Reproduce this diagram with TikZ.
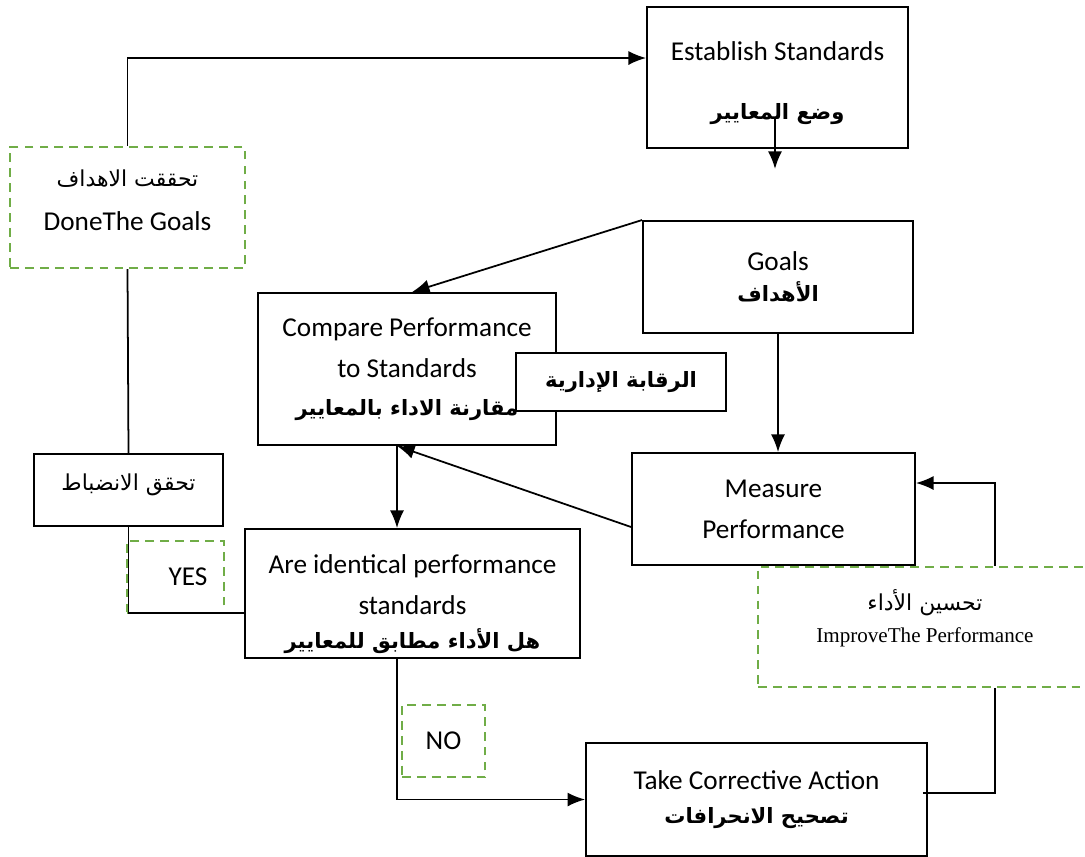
\documentclass[tikz,border=0pt]{standalone}
\usepackage{fontspec}
\setmainfont{Carlito}
\newfontfamily\arabicfont[Script=Arabic]{DejaVu Sans}
\newfontfamily\timesfont{Liberation Serif}
\TeXXeTstate=1
\usetikzlibrary{arrows.meta}

\definecolor{notegreen}{RGB}{112,173,71}
\newcommand{\artxt}[1]{{\arabicfont\fontsize{12.5}{15}\selectfont\beginR #1\endR}}
\newcommand{\artxtb}[1]{{\arabicfont\bfseries\fontsize{12}{14}\selectfont\beginR #1\endR}}

\begin{document}
\begin{tikzpicture}[x=0.02cm,y=-0.02cm,
    font=\fontsize{15.5}{23.3}\selectfont,
    box/.style={draw,line width=1.1pt,fill=white,inner sep=0pt,align=center},
    note/.style={draw=notegreen,dash pattern=on 5pt off 3.5pt,line width=1.3pt,inner sep=0pt,align=center},
    link/.style={line width=1pt},
    arr/.style={link,-{Latex[length=10pt,width=8pt]}}]
  \useasboundingbox (0,0) rectangle (1085,856);

  %% main boxes
  \node[box,minimum width=5.22cm,minimum height=2.82cm] (est) at (777.5,77.5)
    {\rule{0pt}{0.6cm}Establish Standards\\[0.36cm]\artxtb{وضع المعايير}};
  \node[box,minimum width=5.4cm,minimum height=2.24cm] (goals) at (778,277)
    {Goals\\[-0.2cm]\artxtb{الأهداف}};
  \node[box,minimum width=5.96cm,minimum height=3.04cm] (cmp) at (407,369)
    {Compare Performance\\to Standards\\[-0.05cm]\artxtb{مقارنة الاداء بالمعايير}};
  \node[box,minimum width=4.2cm,minimum height=1.16cm] (raq) at (621,382)
    {\artxtb{الرقابة الإدارية}};
  \node[box,minimum width=5.66cm,minimum height=2.24cm] (meas) at (773.5,509)
    {Measure\\Performance};
  \node[box,minimum width=3.78cm,minimum height=1.44cm] (tah) at (128.5,490)
    {\artxt{تحقق الانضباط}\rule[-0.3cm]{0pt}{0pt}};
  \node[box,minimum width=6.7cm,minimum height=2.58cm] (are) at (412.5,593.5)
    {\rule{0pt}{0.8cm}Are identical performance\\standards\\[-0.15cm]\artxtb{هل الأداء مطابق للمعايير}};
  \node[box,minimum width=6.82cm,minimum height=2.26cm] (take) at (756.5,799.5)
    {Take Corrective Action\\[-0.15cm]\artxtb{تصحيح الانحرافات}};

  %% dashed notes
  \node[note,minimum width=4.7cm,minimum height=2.42cm] (done) at (127.5,207.5)
    {\artxt{تحققت الاهداف}\\[0.05cm]DoneThe Goals\rule[-0.3cm]{0pt}{0pt}};
  \node[note,minimum width=1.94cm,minimum height=1.44cm] (yes) at (175.5,577)
    {\hspace*{0.5cm}YES};
  \node[note,minimum width=1.66cm,minimum height=1.44cm] (no) at (443.5,741) {NO};
  \node[note,minimum width=6.68cm,minimum height=2.4cm,font=\fontsize{12}{18}\selectfont] (imp) at (925,627)
    {\artxt{تحسين الأداء}\\\timesfont ImproveThe Performance\rule[-0.45cm]{0pt}{0pt}};

  %% connectors
  \draw[arr] (done.north) |- ([yshift=0.39cm]est.west);
  \draw[arr] ([xshift=-0.05cm,yshift=0.6cm]est.south) -- ([xshift=-0.05cm,yshift=-0.4cm]est.south);
  \draw[arr] (goals.north west) -- ([xshift=0.1cm]cmp.north);
  \draw[arr] (goals.south) -- (goals.south |- meas.north);
  \draw[arr] ([yshift=-0.36cm]meas.west) -- ([xshift=-0.2cm]cmp.south);
  \draw[arr] ([xshift=-0.2cm]cmp.south) -- ([xshift=-0.2cm]cmp.south |- are.north);
  \draw[arr] ([xshift=-0.31cm]are.south) |- (take.west);
  \draw[link] ([xshift=-0.1cm,yshift=0.13cm]take.east) -| ([xshift=1.4cm]imp.south);
  \draw[arr] ([xshift=1.4cm]imp.north) |- ([yshift=0.52cm]meas.east);
  \draw[link] (done.south) -- (tah.north);
  \draw[link] (tah.south) |- ([yshift=-0.39cm]are.west);
\end{tikzpicture}
\end{document}
